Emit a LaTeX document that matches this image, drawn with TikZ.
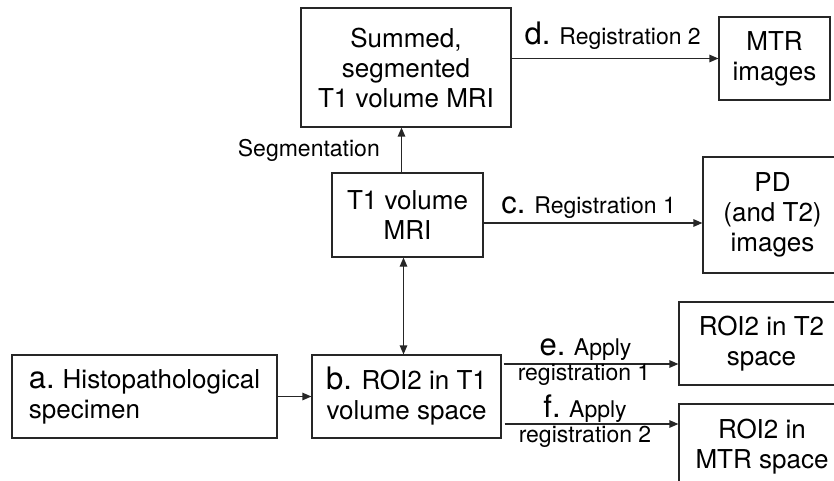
\documentclass[tikz,border=0pt]{standalone}
\usepackage{fontspec}
\setmainfont{TeX Gyre Heros}
\usetikzlibrary{arrows.meta}
% enlarged step letter (a., b., ...)
\newcommand\biglet[1]{{\fontsize{31}{31}\selectfont #1.}}
\tikzset{
  tip/.tip={Triangle[length=9pt,width=7.5pt]},
  box/.style={draw=black!85, line width=1.2pt, align=center, inner sep=0pt,
    font=\fontsize{26}{30}\selectfont},
  conn/.style={draw=black!85, line width=1.2pt, -tip},
  lbl/.style={font=\fontsize{23}{23}\selectfont, inner sep=0pt},
}
\begin{document}
\begin{tikzpicture}[x=1pt,y=-1pt]
\useasboundingbox (0,0) rectangle (834,481);
\clip (0,0) rectangle (834,481);

% boxes
\node[box, minimum width=210pt, minimum height=119pt] (summed) at (406,67.5)
  {Summed,\\segmented\\T1 volume MRI};
\node[box, minimum width=111pt, minimum height=83pt] (mtr) at (774.5,58.5)
  {MTR\\images};
\node[box, minimum width=151pt, minimum height=84pt] (t1) at (407.5,215)
  {T1 volume\\MRI};
\node[box, minimum width=139pt, minimum height=116pt] (pd) at (772.5,215)
  {PD\\(and T2)\\images};
\node[box, align=left, minimum width=265pt, minimum height=83pt] (spec) at (144.5,396.5)
  {\biglet{a}\hspace{8pt}Histopathological\\specimen};
\node[box, minimum width=189pt, minimum height=83pt] (roi) at (406.5,396.5)
  {\biglet{b} ROI2 in T1\\volume space};
\node[box, minimum width=165pt, minimum height=83pt] (roit2) at (761.5,343.5)
  {ROI2 in T2\\space};
\node[box, minimum width=166pt, minimum height=86pt] (roimtr) at (762,447)
  {ROI2 in\\MTR space};

% connectors
\draw[conn] (summed.east |- mtr.west) -- (mtr.west);
\draw[conn] ([xshift=-6pt]t1.north) -- ([xshift=-6pt]t1.north |- summed.south);
\draw[conn] ([yshift=-8pt]t1.east) -- ([yshift=-8pt]t1.east -| pd.west);
\draw[conn, tip-tip] ([xshift=-4pt]t1.south) -- ([xshift=-4pt]t1.south |- roi.north);
\draw[conn] (spec.east) -- (roi.west);
\draw[conn] ([yshift=32.5pt,xshift=2pt]roi.east) -- ([yshift=32.5pt]roi.east -| roit2.west);
\draw[conn] ([yshift=-27.5pt,xshift=3pt]roi.east) -- ([yshift=-27.5pt]roi.east -| roimtr.west);

% connector labels
\node[lbl, anchor=base east] (segl) at (380,157) {Segmentation};
\node[lbl, anchor=base east] (dl) at (701,45) {\biglet{d}\hspace{9pt}Registration 2};
\node[lbl, anchor=base east] (cl) at (676,213) {\biglet{c}\hspace{9pt}Registration 1};
\node[lbl, anchor=base] (el1) at (585.5,355) {\biglet{e} Apply};
\node[lbl, anchor=base] (el2) at (584,380) {registration 1};
\node[lbl, anchor=base] (fl1) at (585,417) {\biglet{f} Apply};
\node[lbl, anchor=base] (fl2) at (585,442) {registration 2};
\end{tikzpicture}
\end{document}
